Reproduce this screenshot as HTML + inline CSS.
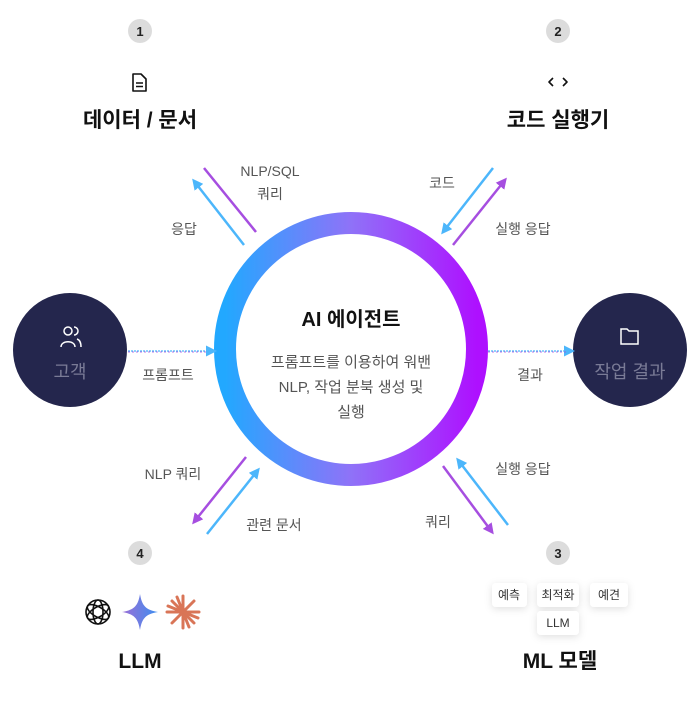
<!DOCTYPE html>
<html><head><meta charset="utf-8"><style>
html,body{margin:0;padding:0;background:#fff}
svg text{font-family:"Liberation Sans","Noto Sans CJK KR",sans-serif}
</style></head><body>
<svg width="700" height="700" viewBox="0 0 700 700" xmlns="http://www.w3.org/2000/svg">
<defs>
<linearGradient id="rg" x1="0" y1="0" x2="1" y2="0">
<stop offset="0" stop-color="#22a8ff"/><stop offset="0.5" stop-color="#8f72f8"/><stop offset="1" stop-color="#ae10ff"/>
</linearGradient>
<linearGradient id="gem" x1="0" y1="0" x2="1" y2="0">
<stop offset="0" stop-color="#9b6fd6"/><stop offset="1" stop-color="#3d8ef0"/>
</linearGradient>
<marker id="mb" markerWidth="11" markerHeight="11" refX="8" refY="5.5" orient="auto" markerUnits="userSpaceOnUse"><path d="M0,0 L11,5.5 L0,11 z" fill="#4cb6fb"/></marker>
<marker id="mp" markerWidth="11" markerHeight="11" refX="8" refY="5.5" orient="auto" markerUnits="userSpaceOnUse"><path d="M0,0 L11,5.5 L0,11 z" fill="#a64ee0"/></marker>
<filter id="sh" x="-30%" y="-30%" width="160%" height="160%"><feDropShadow dx="0" dy="2" stdDeviation="4" flood-color="#000" flood-opacity="0.12"/></filter>
</defs>

<g font-size="13" font-weight="bold" fill="#222" text-anchor="middle">
<circle cx="140" cy="31" r="12" fill="#dcdcdc"/><text x="140" y="36">1</text>
<circle cx="558" cy="31" r="12" fill="#dcdcdc"/><text x="558" y="36">2</text>
<circle cx="140" cy="553" r="12" fill="#dcdcdc"/><text x="140" y="558">4</text>
<circle cx="558" cy="553" r="12" fill="#dcdcdc"/><text x="558" y="558">3</text>
</g>

<g fill="none" stroke="#111" stroke-width="1.6" stroke-linejoin="round">
<path d="M133,74 h8 l5,5 v12 h-13 z"/><path d="M136,83 h7 M136,86.5 h7"/>
<path d="M553,78 l-4,4 l4,4 M563,78 l4,4 l-4,4"/>
</g>
<g font-size="21" font-weight="bold" fill="#111" text-anchor="middle">
<text x="140" y="127">데이터 / 문서</text>
<text x="558" y="127">코드 실행기</text>
<text x="140" y="668">LLM</text>
<text x="560" y="668">ML 모델</text>
</g>

<circle cx="351" cy="349" r="126" fill="none" stroke="url(#rg)" stroke-width="22"/>
<text x="351" y="326" font-size="20" font-weight="bold" fill="#111" text-anchor="middle">AI 에이전트</text>
<g font-size="15" fill="#555" text-anchor="middle">
<text x="351" y="367">프롬프트를 이용하여 워밴</text>
<text x="351" y="392">NLP, 작업 분북 생성 및</text>
<text x="351" y="417">실행</text>
</g>

<circle cx="70" cy="350" r="57" fill="#24264d"/>
<circle cx="630" cy="350" r="57" fill="#24264d"/>
<g fill="none" stroke="#fff" stroke-width="1.5">
<circle cx="68" cy="331" r="4"/><path d="M61,347 c0,-7 14,-7 14,0"/><path d="M74,327 a4,4 0 0 1 0,8 M77,339 c3,1 4,4 4,8"/>
<path d="M621,329 h6 l2,2 h9 v13 h-17 z"/>
</g>
<text x="70" y="378" font-size="18" fill="#7a7b96" text-anchor="middle">고객</text>
<text x="630" y="378" font-size="18" fill="#7a7b96" text-anchor="middle">작업 결과</text>

<line x1="128" y1="351" x2="214" y2="351" stroke="#4cb6fb" stroke-width="1.2" stroke-dasharray="2 1" marker-end="url(#mb)"/>
<line x1="128" y1="352" x2="208" y2="352" stroke="#a64ee0" stroke-width="0.8" stroke-dasharray="2 2"/>
<line x1="488" y1="351" x2="572" y2="351" stroke="#4cb6fb" stroke-width="1.2" stroke-dasharray="2 1" marker-end="url(#mb)"/>
<line x1="488" y1="352" x2="566" y2="352" stroke="#a64ee0" stroke-width="0.8" stroke-dasharray="2 2"/>
<g font-size="14" fill="#555" text-anchor="middle">
<text x="168" y="380">프롬프트</text>
<text x="530" y="380">결과</text>
</g>

<g stroke-width="2.5">
<line x1="244" y1="245" x2="194" y2="181" stroke="#4cb6fb" marker-end="url(#mb)"/>
<line x1="256" y1="232" x2="204" y2="168" stroke="#a64ee0"/>
<line x1="493" y1="168" x2="443" y2="232" stroke="#4cb6fb" marker-end="url(#mb)"/>
<line x1="453" y1="245" x2="505" y2="180" stroke="#a64ee0" marker-end="url(#mp)"/>
<line x1="246" y1="457" x2="194" y2="522" stroke="#a64ee0" marker-end="url(#mp)"/>
<line x1="207" y1="534" x2="258" y2="470" stroke="#4cb6fb" marker-end="url(#mb)"/>
<line x1="443" y1="466" x2="492" y2="532" stroke="#a64ee0" marker-end="url(#mp)"/>
<line x1="508" y1="525" x2="458" y2="460" stroke="#4cb6fb" marker-end="url(#mb)"/>
</g>
<g font-size="14" fill="#555" text-anchor="middle">
<text x="270" y="176">NLP/SQL</text>
<text x="270" y="199">쿼리</text>
<text x="184" y="234">응답</text>
<text x="442" y="188">코드</text>
<text x="523" y="234">실행 응답</text>
<text x="173" y="479">NLP 쿼리</text>
<text x="274" y="530">관련 문서</text>
<text x="523" y="474">실행 응답</text>
<text x="438" y="527">쿼리</text>
</g>

<g fill="none" stroke="#111" stroke-width="1.6">
<circle cx="98" cy="612" r="12"/>
<ellipse cx="98" cy="612" rx="5" ry="12"/>
<ellipse cx="98" cy="612" rx="5" ry="12" transform="rotate(60 98 612)"/>
<ellipse cx="98" cy="612" rx="5" ry="12" transform="rotate(-60 98 612)"/>
</g>
<path d="M140,594 C142,606 146,610 158,612 C146,614 142,618 140,630 C138,618 134,614 122,612 C134,610 138,606 140,594 z" fill="url(#gem)"/>
<g stroke="#d97557" stroke-width="3" stroke-linecap="round">
<line x1="183" y1="596" x2="183" y2="628"/><line x1="167" y1="612" x2="199" y2="612"/>
<line x1="172" y1="601" x2="194" y2="623"/><line x1="194" y1="601" x2="172" y2="623"/>
<line x1="177" y1="597" x2="189" y2="627"/><line x1="168" y1="606" x2="198" y2="618"/>
</g>

<g filter="url(#sh)" fill="#fff">
<rect x="492" y="583" width="35" height="24" rx="4"/>
<rect x="537" y="583" width="42" height="24" rx="4"/>
<rect x="590" y="583" width="38" height="24" rx="4"/>
<rect x="537" y="611" width="42" height="24" rx="4"/>
</g>
<g font-size="12" fill="#333" text-anchor="middle">
<text x="509" y="599">예측</text>
<text x="558" y="599">최적화</text>
<text x="609" y="599">예견</text>
<text x="558" y="627">LLM</text>
</g>
</svg>
</body></html>
